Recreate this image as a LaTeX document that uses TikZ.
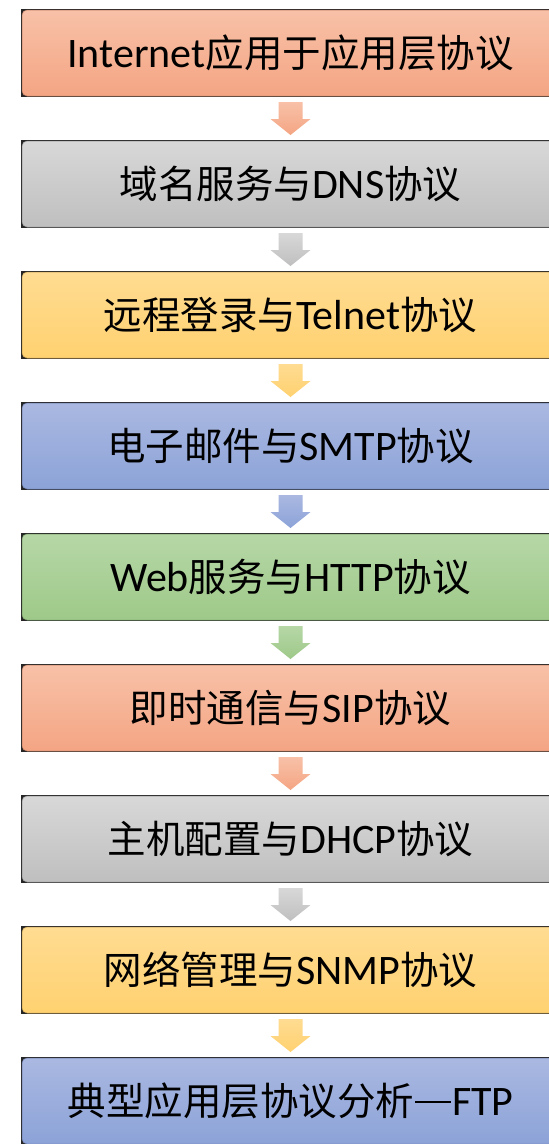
\documentclass[tikz,border=0pt]{standalone}
\usepackage{fontspec}
\newfontfamily\cjk{Noto Sans CJK SC}
\newfontfamily\lat{Carlito}
\usetikzlibrary{calc}
\definecolor{orT}{RGB}{248,193,168}
\definecolor{orB}{RGB}{244,165,131}
\definecolor{grT}{RGB}{216,216,216}
\definecolor{grB}{RGB}{191,191,191}
\definecolor{yeT}{RGB}{255,220,146}
\definecolor{yeB}{RGB}{255,209,112}
\definecolor{blT}{RGB}{170,184,225}
\definecolor{blB}{RGB}{140,163,216}
\definecolor{gnT}{RGB}{182,215,166}
\definecolor{gnB}{RGB}{158,201,137}
\tikzset{
  x=1pt,y=-1pt,
  frame/.style={fill=black!85,minimum width=539pt,minimum height=88pt,inner sep=0pt,outer sep=0pt},
  box/.style={minimum width=537pt,minimum height=86pt,inner sep=0pt,outer sep=0pt,rounded corners=5pt,
    top color=#1T,bottom color=#1B,draw=#1B!75!black,line width=0.5pt,
    font=\fontsize{38.5}{42}\selectfont\cjk,text=black},
  blockarrow/.style={top color=#1T,bottom color=#1B,draw=none},
}
\newcommand{\latw}[1]{{\lat\fontsize{42}{44}\selectfont #1}}
\newcommand{\longdash}{\kern1pt\rule[0.33em]{36pt}{1.6pt}\kern1pt}
\newcommand{\arr}[3]{%
  \path[blockarrow=#3] ($(#1.south)+(-12,5)$) -- ($(#1.south)+(12,5)$) -- ($(#1.south)+(12,22)$)
    -- ($(#1.south)+(20,22)$) -- ($(#2.north)+(0,-5)$) -- ($(#1.south)+(-20,22)$)
    -- ($(#1.south)+(-12,22)$) -- cycle;}
\begin{document}
\begin{tikzpicture}
\useasboundingbox (0,0) rectangle (549,1144);
\fill[white] (0,0) rectangle (549,1144);
\foreach \i in {1,...,9}{
  \node[frame] (f\i) at (290.5,{53+131*(\i-1)}) {};
}
\node[box=or] (b1) at (f1) {\latw{Internet}应用于应用层协议};
\node[box=gr] (b2) at (f2) {域名服务与\latw{DNS}协议};
\node[box=ye] (b3) at (f3) {远程登录与\latw{Telnet}协议};
\node[box=bl] (b4) at (f4) {电子邮件与\latw{SMTP}协议};
\node[box=gn] (b5) at (f5) {\latw{Web}服务与\latw{HTTP}协议};
\node[box=or] (b6) at (f6) {即时通信与\latw{SIP}协议};
\node[box=gr] (b7) at (f7) {主机配置与\latw{DHCP}协议};
\node[box=ye] (b8) at (f8) {网络管理与\latw{SNMP}协议};
\node[box=bl] (b9) at (f9) {典型应用层协议分析\longdash\latw{FTP}};
\arr{f1}{f2}{or}
\arr{f2}{f3}{gr}
\arr{f3}{f4}{ye}
\arr{f4}{f5}{bl}
\arr{f5}{f6}{gn}
\arr{f6}{f7}{or}
\arr{f7}{f8}{gr}
\arr{f8}{f9}{ye}
\end{tikzpicture}
\end{document}
